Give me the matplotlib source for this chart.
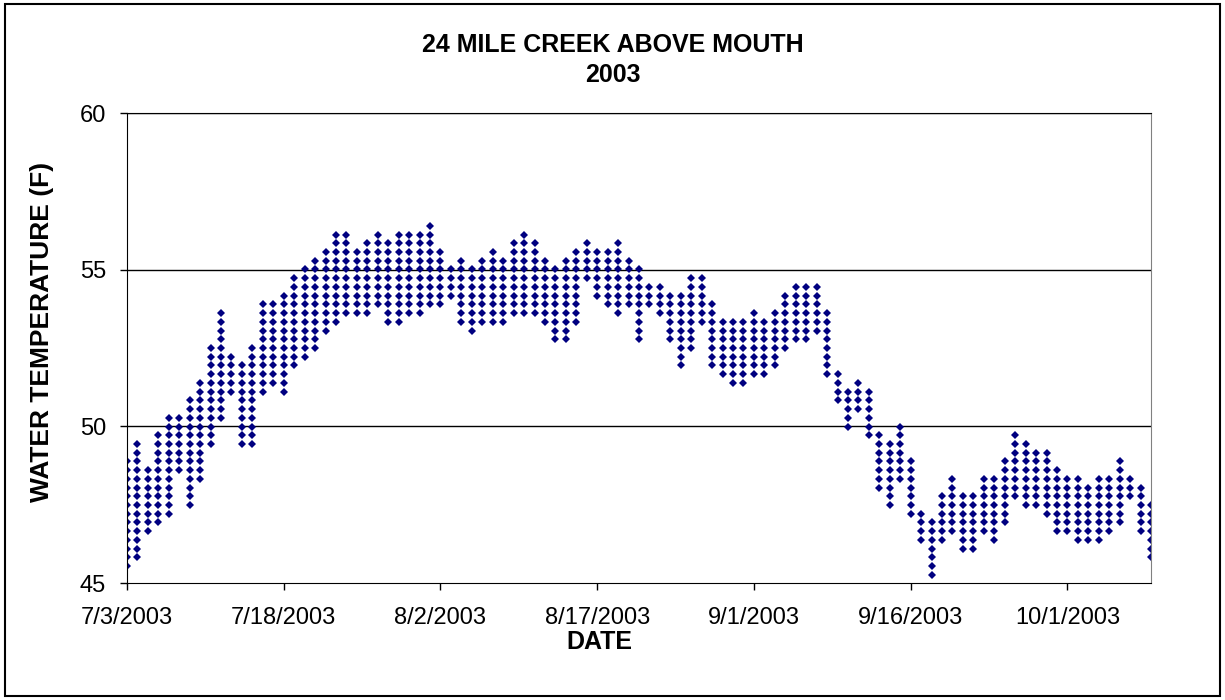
import numpy as np
import pandas as pd
import matplotlib.pyplot as plt
from matplotlib.patches import Rectangle

plt.rcParams['font.family'] = ['Liberation Sans', 'DejaVu Sans']

# daily logger range (deg F), one column of readings per day starting 7/3/2003
daily_max = [48.90, 49.46, 48.65, 49.74, 50.29, 50.29, 50.84, 51.39, 52.49, 53.66,
             52.24, 51.96, 52.51, 53.93, 53.93, 54.20, 54.76, 55.04, 55.31, 55.60,
             56.14, 56.14, 55.60, 55.86, 56.14, 55.86, 56.14, 56.14, 56.14, 56.40,
             55.60, 55.04, 55.33, 55.04, 55.31, 55.60, 55.31, 55.86, 56.14, 55.86,
             55.31, 55.04, 55.31, 55.60, 55.86, 55.60, 55.60, 55.86, 55.31, 55.04,
             54.46, 54.46, 54.19, 54.19, 54.76, 54.76, 53.89, 53.36, 53.36, 53.36,
             53.64, 53.36, 53.64, 54.19, 54.46, 54.46, 54.46, 53.64, 51.69, 51.13,
             51.39, 51.13, 49.72, 49.44, 49.99, 48.90, 47.22, 46.93, 47.78, 48.34,
             47.78, 47.78, 48.34, 48.34, 48.90, 49.72, 49.44, 49.17, 49.17, 48.63,
             48.34, 48.34, 48.07, 48.34, 48.34, 48.90, 48.34, 48.07, 47.52]
daily_min = [45.57, 45.82, 46.66, 46.93, 47.22, 48.65, 47.52, 48.34, 49.44, 50.29,
             51.13, 49.44, 49.44, 51.13, 51.39, 51.13, 51.93, 52.22, 52.49, 53.10,
             53.36, 53.64, 53.64, 53.64, 53.89, 53.36, 53.36, 53.64, 53.64, 53.89,
             53.89, 54.19, 53.34, 53.10, 53.34, 53.34, 53.34, 53.64, 53.64, 53.64,
             53.34, 52.79, 52.79, 53.34, 54.76, 54.19, 53.89, 53.64, 53.89, 52.79,
             53.89, 53.64, 52.79, 51.93, 52.49, 53.34, 51.93, 51.67, 51.39, 51.39,
             51.67, 51.67, 51.93, 52.49, 52.79, 52.79, 53.10, 51.67, 50.82, 49.99,
             50.57, 49.72, 48.07, 47.52, 48.34, 47.22, 46.43, 45.26, 46.43, 46.67,
             46.13, 46.13, 46.67, 46.43, 46.93, 47.78, 47.52, 47.52, 47.22, 46.67,
             46.67, 46.43, 46.43, 46.43, 46.67, 46.93, 47.78, 46.67, 45.82]

# logger resolution: readings fall on fixed steps
base_level = 45.26
resolution = 0.2785

tick_labels = ["7/3/2003", "7/18/2003", "8/2/2003", "8/17/2003",
               "9/1/2003", "9/16/2003", "10/1/2003"]

dates = pd.date_range("2003-07-03", periods=len(daily_max), freq="D")
levels = base_level + resolution * np.arange(41)

xs, ys = [], []
for d, lo, hi in zip(dates, daily_min, daily_max):
    day_levels = levels[(levels >= lo - 0.1) & (levels <= hi + 0.1)]
    xs.extend([d] * len(day_levels))
    ys.extend(day_levels)

fig = plt.figure(figsize=(12.25, 7), dpi=100)
fig.patches.append(Rectangle((5 / 1225, 4 / 700), 1215 / 1225, 692 / 700,
                             transform=fig.transFigure, fill=False,
                             edgecolor="black", linewidth=1.5))

ax = fig.add_axes([127 / 1225, 1 - 583 / 700, 1024 / 1225, 470 / 700])
ax.plot(xs, ys, linestyle="none", marker="D", markersize=3.8,
        color="#000080", markeredgewidth=0)

ax.set_xlim(dates[0], dates[-1])
ax.set_ylim(45, 60)
ax.set_yticks([45, 50, 55, 60])
ax.set_xticks(dates[::15])
ax.set_xticklabels(tick_labels)
for y in [50, 55, 60]:
    ax.axhline(y, color="black", linewidth=1.0, zorder=0)

for side in ["left", "bottom", "top"]:
    ax.spines[side].set_color("black")
ax.spines["right"].set_color("#808080")
ax.tick_params(direction="out", length=5, width=1, labelsize=17)
ax.tick_params(axis="x", pad=12)
ax.tick_params(axis="y", pad=10)

fig.text(613 / 1225, 1 - 45 / 700, "24 MILE CREEK ABOVE MOUTH", ha="center",
         va="center", fontsize=18, fontweight="bold")
fig.text(613 / 1225, 1 - 75 / 700, "2003", ha="center", va="center",
         fontsize=18, fontweight="bold")
fig.text(599 / 1225, 1 - 642 / 700, "DATE", ha="center", va="center",
         fontsize=18, fontweight="bold")
fig.text(42 / 1225, 1 - 332 / 700, "WATER TEMPERATURE (F)", ha="center",
         va="center", rotation=90, fontsize=19, fontweight="bold")

fig.savefig("out.png", dpi=100)
